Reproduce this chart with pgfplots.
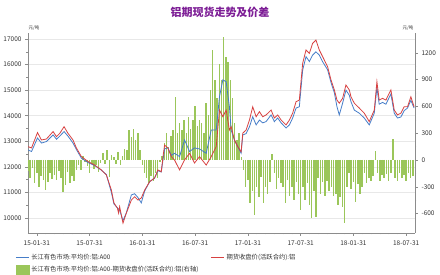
\documentclass[border=0pt]{standalone}
\usepackage{pgfplots}
\pgfplotsset{compat=1.18}
\usepackage{fontspec}
\setmainfont{Noto Sans CJK SC}
\definecolor{ttl}{RGB}{125,30,150}
\definecolor{lblue}{RGB}{70,125,200}
\definecolor{lred}{RGB}{215,65,65}
\definecolor{bgreen}{RGB}{155,198,90}
\definecolor{axgray}{RGB}{140,140,140}
\definecolor{gridc}{RGB}{232,232,232}
\begin{document}
\begin{tikzpicture}
\useasboundingbox (0,0) rectangle (440pt,275pt);
\pgfplotsset{
  base/.style={
    at={(28pt,42pt)}, anchor=south west,
    width=387pt, height=200pt, scale only axis,
    xmin=-1, xmax=43,
    scaled ticks=false,
    tick label style={font=\fontsize{6.5}{7}\selectfont, text=black!80},
    /pgf/number format/assume math mode=true,
    /pgf/number format/set thousands separator={},
    tick align=outside,
    major tick length=3pt, minor tick length=1.5pt,
    every tick/.style={axgray, line width=0.5pt},
    axis line style={axgray, line width=0.6pt},
  }
}
% grid + left axis + x axis
\begin{axis}[base,
  ymin=9413, ymax=17235,
  axis x line*=bottom, axis y line*=left,
  xtick={0,6,12,18,24,30,36,42},
  xticklabels={15-01-31,15-07-31,16-01-31,16-07-31,17-01-31,17-07-31,18-01-31,18-07-31},
  minor x tick num=5,
  ytick={10000,11000,12000,13000,14000,15000,16000,17000},
  minor y tick num=1,
  ymajorgrids, major grid style={gridc, line width=0.5pt},
  xticklabel style={yshift=-1pt},
]
\addplot[draw=none] coordinates {(0,12000)};
\end{axis}
% right axis with bars
\begin{axis}[base,
  ymin=-818, ymax=1423,
  axis x line=none, axis y line*=right,
  ytick={-600,-300,0,300,600,900,1200},
  minor y tick num=1,
]
\addplot[ycomb, bgreen, line width=1.5pt] coordinates {
(-1.00,-120)(-0.75,-200)(-0.50,-90)(-0.25,-260)(0.00,-150)(0.25,-300)(0.50,-180)(0.75,-220)
(1.00,-340)(1.25,-250)(1.50,-150)(1.75,-210)(2.00,-170)(2.25,-220)(2.50,-120)(2.75,-200)
(3.00,-355)(3.25,-280)(3.50,-140)(3.75,-260)(4.00,-180)(4.25,-230)(4.50,-110)(4.75,-60)
(5.00,-110)(5.25,40)(5.50,-20)(5.75,-70)(6.00,-150)(6.25,-40)(6.50,-100)(6.75,-60)
(7.00,-130)(7.25,-30)(7.50,80)(7.75,-50)(8.00,110)(8.25,-190)(8.50,60)(8.75,30)
(9.00,-40)(9.25,90)(9.50,-60)(9.75,50)(10.00,120)(10.25,110)(10.50,340)(10.75,260)
(11.00,350)(11.25,220)(11.50,300)(11.75,110)(12.00,-60)(12.25,-150)(12.50,-200)(12.75,-260)
(13.00,-180)(13.25,-230)(13.50,-150)(13.75,-200)(14.00,-20)(14.25,40)(14.50,190)(14.75,300)
(15.00,150)(15.25,270)(15.50,340)(15.75,710)(16.00,300)(16.25,410)(16.50,340)(16.75,450)
(17.00,300)(17.25,480)(17.50,350)(17.75,450)(18.00,600)(18.25,380)(18.50,450)(18.75,410)
(19.00,300)(19.25,640)(19.50,500)(19.75,780)(20.00,1230)(20.25,900)(20.50,700)(20.75,1080)
(21.00,900)(21.25,1380)(21.50,1150)(21.75,1100)(22.00,900)(22.25,700)(22.50,410)(22.75,220)
(23.00,300)(23.25,30)(23.50,-110)(23.75,-300)(24.00,-220)(24.25,-480)(24.50,-350)(24.75,-620)
(25.00,-300)(25.25,-410)(25.50,-190)(25.75,-480)(26.00,-300)(26.25,-380)(26.50,-250)(26.75,70)
(27.00,-150)(27.25,-320)(27.50,-200)(27.75,-260)(28.00,-300)(28.25,-480)(28.50,-220)(28.75,-400)
(29.00,-300)(29.25,-450)(29.50,-250)(29.75,-380)(30.00,-560)(30.25,-300)(30.50,-450)(30.75,-260)
(31.00,-500)(31.25,-650)(31.50,-350)(31.75,-640)(32.00,-200)(32.25,-380)(32.50,-250)(32.75,-400)
(33.00,-230)(33.25,-350)(33.50,-300)(33.75,-400)(34.00,-380)(34.25,-500)(34.50,-420)(34.75,-530)
(35.00,-710)(35.25,-300)(35.50,-150)(35.75,-330)(36.00,-250)(36.25,-470)(36.50,-270)(36.75,-380)
(37.00,-300)(37.25,-150)(37.50,-260)(37.75,-200)(38.00,-230)(38.25,-180)(38.50,100)(38.75,-150)
(39.00,-230)(39.25,-170)(39.50,-200)(39.75,-160)(40.00,-230)(40.25,-150)(40.50,240)(40.75,-200)
(41.00,-230)(41.25,-150)(41.50,-200)(41.75,-170)(42.00,-230)(42.25,-150)(42.50,-200)(42.75,-180)
};
\end{axis}
% lines on left scale
\begin{axis}[base,
  ymin=9413, ymax=17235,
  hide axis,
  legend columns=2,
  legend cell align=left,
  legend style={at={(0,0)}, anchor=north west, xshift=-16pt, yshift=-17pt,
    draw=none, fill=none, font=\fontsize{6.3}{7.5}\selectfont, text=black!80,
    row sep=1pt,
    /tikz/every even column/.append style={column sep=10pt}},
]
\addplot[lblue, line width=0.8pt, forget plot] coordinates {
(-0.99,12660)(-0.6,12600)(0.08,13130)(0.53,12930)(1.1,12990)(1.85,13250)(2.24,13080)(2.61,13200)
(3.1,13380)(3.55,13200)(4.12,12930)(4.5,12680)(5.07,12340)(5.82,12170)(6.58,12050)(7.34,11870)
(7.91,11700)(8.48,11000)(8.77,10550)(9.16,10400)(9.42,10300)(9.8,9900)(10.18,10200)(10.75,10900)
(11.12,10950)(11.5,10800)(11.88,10590)(12.26,11050)(12.83,11420)(13.39,11560)(13.77,11850)(14.15,11800)
(14.53,12700)(14.9,12750)(15.29,12450)(15.66,12530)(16.23,12400)(16.8,13050)(17.37,12600)(17.93,12740)
(18.5,12700)(19.26,12530)(19.83,13440)(20.4,13440)(20.77,14740)(21.15,15400)(21.53,15330)(21.9,14350)
(22.1,13440)(22.47,13050)(22.85,12790)(23.23,12530)(23.42,13250)(23.8,13300)(24.18,13570)(24.55,13960)
(24.94,13640)(25.31,13830)(25.69,13720)(26.07,13770)(26.64,14030)(27.01,13770)(27.39,13910)(27.78,13720)
(28.34,13520)(28.72,13640)(29.09,13910)(29.48,14300)(29.85,14350)(30.23,15790)(30.61,16310)(30.99,16120)
(31.36,16370)(31.74,16500)(32.12,16370)(32.5,16110)(33.06,15800)(33.45,15300)(33.83,14900)(34.13,14350)
(34.39,14030)(34.77,14490)(35.15,15000)(35.53,14800)(35.72,14550)(36.1,14220)(36.66,14100)(37.23,13910)
(37.8,13640)(38.37,14100)(38.67,15100)(38.93,14450)(39.31,14520)(39.69,14450)(40.26,14850)(40.64,14100)
(41.01,13910)(41.4,13950)(41.77,14200)(42.15,14300)(42.53,14600)(42.9,14300)
};
\addplot[lred, line width=0.8pt, forget plot] coordinates {
(-0.99,12790)(-0.6,12740)(0.08,13340)(0.53,13050)(1.1,13090)(1.85,13380)(2.24,13180)(2.61,13310)
(3.1,13570)(3.55,13310)(4.12,13050)(4.5,12740)(5.07,12400)(5.82,12210)(6.58,12070)(7.34,11880)
(7.91,11680)(8.48,11090)(8.77,10590)(9.16,10390)(9.3,10190)(9.42,10440)(9.8,9800)(10.18,10190)(10.75,10700)
(11.12,10830)(11.5,10700)(11.88,10780)(12.26,11090)(12.83,11420)(13.39,11560)(13.77,11880)(14.15,11810)
(14.4,12530)(14.53,12850)(14.9,12740)(15.29,12400)(15.66,12270)(16.23,11880)(16.8,12270)(17.37,12530)(17.93,12150)
(18.5,12400)(19.26,12070)(19.83,12400)(20.4,12790)(20.77,14220)(21.15,13960)(21.53,14220)(21.9,13440)
(22.1,13570)(22.47,13050)(22.85,12790)(23.23,12590)(23.42,13320)(23.8,13440)(24.18,13830)(24.55,14350)
(24.94,13960)(25.31,14160)(25.69,13960)(26.07,14030)(26.64,14220)(27.01,13910)(27.39,14030)(27.78,13830)
(28.34,13640)(28.72,13830)(29.09,14100)(29.48,14550)(29.85,14610)(30.23,16050)(30.61,16570)(30.99,16440)
(31.36,16830)(31.74,16960)(32.12,16570)(32.5,16310)(33.06,15920)(33.45,15400)(33.83,15010)(34.13,14610)
(34.39,14490)(34.77,14680)(35.15,15200)(35.53,15010)(35.72,14740)(36.1,14490)(36.66,14300)(37.23,14100)
(37.8,13770)(38.37,14220)(38.67,15330)(38.93,14610)(39.31,14680)(39.69,14610)(40.26,15010)(40.64,14220)
(41.01,14030)(41.4,14100)(41.77,14350)(42.15,14350)(42.53,14740)(42.9,14350)
};
\addlegendimage{legend image code/.code={\draw[lblue, line width=1.1pt] (0pt,0pt) -- (13pt,0pt);}}
\addlegendentry{长江有色市场:平均价:铝:A00}
\addlegendimage{legend image code/.code={\draw[lred, line width=1.1pt] (0pt,0pt) -- (13pt,0pt);}}
\addlegendentry{期货收盘价(活跃合约):铝}
\addlegendimage{legend image code/.code={\fill[bgreen] (0pt,-4.5pt) rectangle (13pt,4.5pt);}}
\addlegendentry{长江有色市场:平均价:铝:A00-期货收盘价(活跃合约):铝(右轴)}
\end{axis}
\node[font=\bfseries\fontsize{11}{13}\selectfont, text=ttl] at (220pt,263pt) {铝期现货走势及价差};
\node[font=\fontsize{4.5}{5}\selectfont, text=black!80] at (34pt,247pt) {元/吨};
\node[font=\fontsize{4.5}{5}\selectfont, text=black!80] at (408pt,247pt) {元/吨};
\end{tikzpicture}
\end{document}
